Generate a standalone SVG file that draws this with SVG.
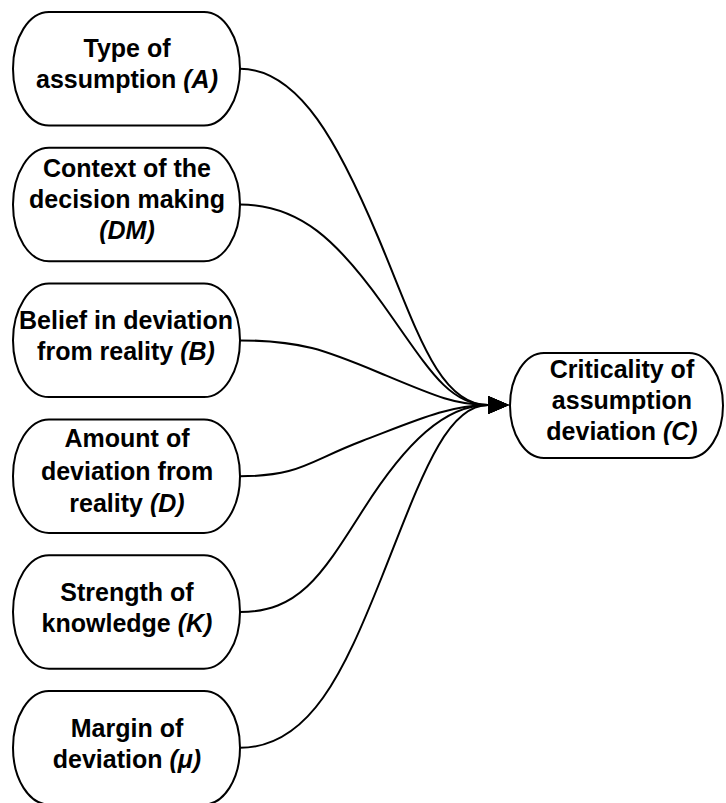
<svg xmlns="http://www.w3.org/2000/svg" width="726" height="803" viewBox="0 0 726 803">
  <style>
    .box { fill: #ffffff; stroke: #000000; stroke-width: 2; }
    .lbl { font-family: "Liberation Sans", Arial, sans-serif; font-weight: bold; font-size: 25px; fill: #000000; text-anchor: middle; }
    .it { font-style: italic; }
    .edge { fill: none; stroke: #000000; stroke-width: 2; marker-end: url(#arrow); }
  </style>
  <defs>
    <marker id="arrow" markerUnits="userSpaceOnUse" markerWidth="22" markerHeight="18" viewBox="0 0 21 18" refX="0" refY="9" orient="auto">
      <path d="M0,0 L21,9 L0,18 Z" fill="#000000"/>
    </marker>
  </defs>
  <rect width="726" height="803" fill="#ffffff"/>

  <!-- connectors: each factor feeds the criticality node -->
  <g id="connectors">
    <path class="edge" d="M240,68.75 C300,68.75 340,147 378,237 C416,327 438,405 488,405"/>
    <path class="edge" d="M240,204.5 C300,204.5 338,241.5 383,304.5 C428,367.5 448,405 488,405"/>
    <path class="edge" d="M240,340.4 C300,340.4 325,350 380,373 C435,396 455,405 488,405"/>
    <path class="edge" d="M240,476.2 C300,476.2 307,462 362,441 C417,420 450,405 488,405"/>
    <path class="edge" d="M240,612 C300,612 322,574.5 364,508.5 C406,442.5 445,405 488,405"/>
    <path class="edge" d="M240,747.8 C310,747.8 344,671.5 382,576.5 C420,481.5 445,405 488,405"/>
  </g>

  <g id="node-type">
    <rect class="box" x="13" y="12" width="227" height="113.5" rx="36" ry="56.75"/>
    <text class="lbl" x="127" y="57">Type of</text>
    <text class="lbl" x="127" y="88">assumption <tspan class="it">(A)</tspan></text>
  </g>

  <g id="node-context">
    <rect class="box" x="13" y="147.8" width="227" height="113.5" rx="36" ry="56.75"/>
    <text class="lbl" x="127" y="177">Context of the</text>
    <text class="lbl" x="127" y="208">decision making</text>
    <text class="lbl it" x="127" y="239">(DM)</text>
  </g>

  <g id="node-belief">
    <rect class="box" x="13" y="283.6" width="227" height="113.5" rx="36" ry="56.75"/>
    <text class="lbl" x="126" y="328.5">Belief in deviation</text>
    <text class="lbl" x="126" y="359.5">from reality <tspan class="it">(B)</tspan></text>
  </g>

  <g id="node-amount">
    <rect class="box" x="13" y="419.4" width="227" height="113.5" rx="36" ry="56.75"/>
    <text class="lbl" x="127" y="447">Amount of</text>
    <text class="lbl" x="127" y="480">deviation from</text>
    <text class="lbl" x="127" y="511.5">reality <tspan class="it">(D)</tspan></text>
  </g>

  <g id="node-strength">
    <rect class="box" x="13" y="555.2" width="227" height="113.5" rx="36" ry="56.75"/>
    <text class="lbl" x="127" y="601">Strength of</text>
    <text class="lbl" x="127" y="632">knowledge <tspan class="it">(K)</tspan></text>
  </g>

  <g id="node-margin">
    <rect class="box" x="13" y="691" width="227" height="113.5" rx="36" ry="56.75"/>
    <text class="lbl" x="127" y="737">Margin of</text>
    <text class="lbl" x="127" y="768">deviation <tspan class="it">(μ)</tspan></text>
  </g>

  <g id="node-criticality">
    <rect class="box" x="510" y="353" width="213" height="105" rx="34" ry="52.5"/>
    <text class="lbl" x="622" y="377.5">Criticality of</text>
    <text class="lbl" x="622" y="408.5">assumption</text>
    <text class="lbl" x="622" y="439.5">deviation <tspan class="it">(C)</tspan></text>
  </g>
</svg>
